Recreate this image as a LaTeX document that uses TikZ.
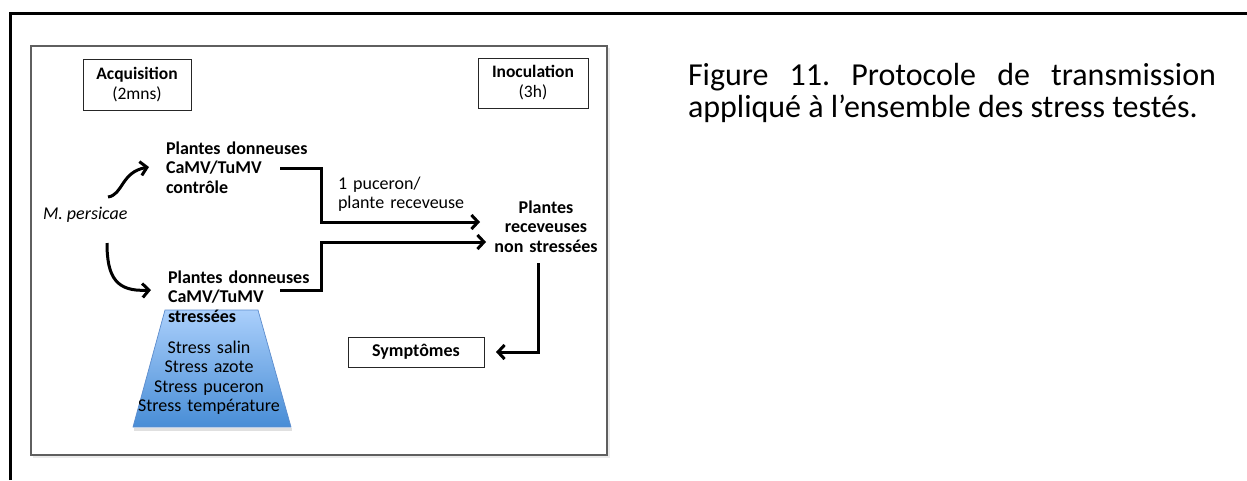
\documentclass[tikz,border=0pt]{standalone}
\usepackage{fontspec}
\setmainfont{Carlito}
\usetikzlibrary{arrows.meta}
\definecolor{topblue}{RGB}{170,207,251}
\definecolor{botblue}{RGB}{72,141,214}
\definecolor{trapline}{RGB}{92,140,205}
\definecolor{framegray}{RGB}{95,95,95}
\frenchspacing
\begin{document}
\begin{tikzpicture}[x=1pt,y=-1pt,
  every node/.style={inner sep=0pt, outer sep=0pt},
  lbl/.style={font=\fontsize{18}{19.5}\selectfont},
  bl/.style={font=\fontsize{18}{19.5}\selectfont\bfseries},
  boxn/.style={draw=black!85, line width=0.9pt, align=center, font=\fontsize{17.5}{20}\selectfont},
  conn/.style={line width=3pt, line join=miter, -{Straight Barb[length=6.5pt,width=14pt]}},
]
\useasboundingbox (0,0) rectangle (1247,480);
% outer frame
\draw[line width=3pt, line join=miter] (10.5,480) -- (10.5,13.5) -- (1247,13.5);
% inner frame with shadow
\fill[black!8] (33,48) rectangle (609.5,457.5);
\draw[fill=white, draw=framegray, line width=1.5pt] (31,46) rectangle (607,455);
% trapezoid
\fill[black!12] (134,428) -- (292,428) -- (292,431) -- (134,431) -- cycle;
\shade[top color=topblue, bottom color=botblue, draw=trapline, line width=0.7pt]
  (165,310) -- (258,310) -- (291,427) -- (133,427) -- cycle;
% boxes
\node[boxn, minimum width=108pt, minimum height=51pt] (acq) at (137,84.5) {\textbf{Acquisition}\\(2mns)};
\node[boxn, minimum width=110pt, minimum height=50pt] (inoc) at (533,83) {\textbf{Inoculation}\\(3h)};
\node[boxn, minimum width=136pt, minimum height=30pt, font=\fontsize{18}{19.5}\selectfont\bfseries] (symp) at (416,352) {Symptômes};
% text nodes
\node[bl, anchor=base west, text width=150pt, align=left] (ctrl) at (166,154) {Plantes donneuses\\CaMV/TuMV\\contrôle};
\node[bl, anchor=base west, text width=150pt, align=left] (strs) at (168,283) {Plantes donneuses\\CaMV/TuMV\\stressées};
\node[bl, anchor=base, text width=120pt, align=center] (recv) at (546,213) {Plantes\\receveuses\\non stressées};
\node[lbl, anchor=base west, text width=150pt, align=left] (puc) at (338,189) {1 puceron/\\plante receveuse};
\node[lbl, anchor=base west, font=\fontsize{18}{19.5}\selectfont\itshape] (mp) at (43,219) {M. persicae};
\node[lbl, anchor=base, text width=170pt, align=center] (lst) at (209,353) {Stress salin\\Stress azote\\Stress puceron\\Stress température};
% caption
\node[anchor=base west, text width=528pt, align=justify, font=\fontsize{32}{32}\selectfont] (cap) at (688,85)
  {Figure 11. Protocole de transmission\linebreak appliqué à l’ensemble des stress testés.};
% connector end points
\coordinate (m1s) at (108,197);
\coordinate (m1e) at (149,167);
\coordinate (m2s) at (107,243);
\coordinate (m2e) at (151,290);
\coordinate (c1s) at (280,168);
\coordinate (c1e) at (480,222);
\coordinate (c2s) at (280,290);
\coordinate (c2e) at (486,242);
\coordinate (c3s) at (538,263);
\coordinate (c3e) at (496,352);
% connectors
\draw[conn] (m1s) .. controls (123,195) and (121,172) .. (m1e);
\draw[conn] (m2s) .. controls (107,277) and (116,292) .. (m2e);
\draw[conn] (c1s) -- ++(41,0) |- (c1e);
\draw[conn] (c2s) -- ++(41,0) |- (c2e);
\draw[conn] (c3s) |- (c3e);
\end{tikzpicture}
\end{document}
